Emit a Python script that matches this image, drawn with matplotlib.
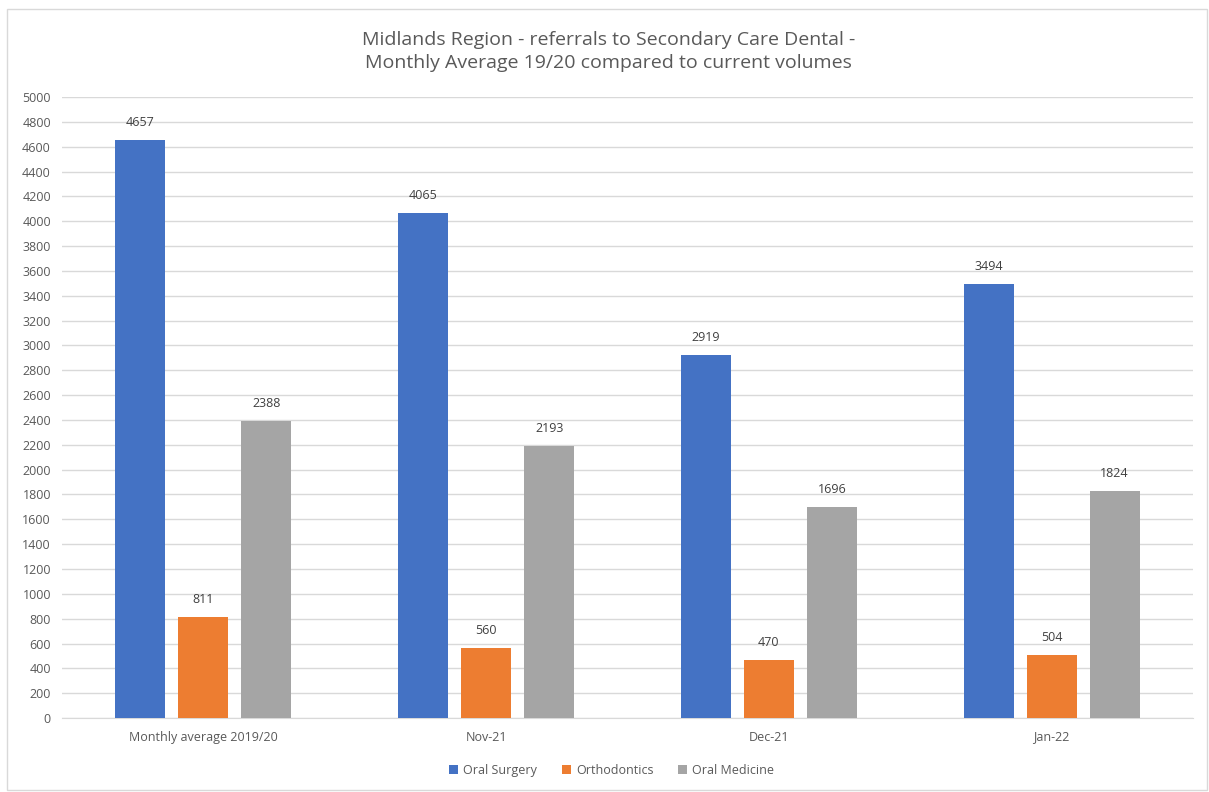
import numpy as np
import matplotlib
matplotlib.use("Agg")
from matplotlib import pyplot as plt
from matplotlib.patches import Rectangle

categories = ["Monthly average 2019/20", "Nov-21", "Dec-21", "Jan-22"]
series_names = ["Oral Surgery", "Orthodontics", "Oral Medicine"]
oral_surgery = [4657, 4065, 2919, 3494]
orthodontics = [811, 560, 470, 504]
oral_medicine = [2388, 2193, 1696, 1824]
y_ticks = list(range(0, 5001, 200))

colors = ["#4472C4", "#ED7D31", "#A5A5A5"]
text_color = "#595959"

plt.rcParams["font.family"] = ["Open Sans", "DejaVu Sans"]

fig = plt.figure(figsize=(12.09, 7.92), dpi=100)
ax = fig.add_axes([0.0513, 0.0934, 0.9355, 0.7841])

x = np.arange(len(categories))
width = 0.177
step = 0.223
for i, (name, vals) in enumerate(zip(series_names, [oral_surgery, orthodontics, oral_medicine])):
    bars = ax.bar(x + (i - 1) * step, vals, width, color=colors[i], label=name, zorder=3)
    for b, v in zip(bars, vals):
        ax.annotate(str(v), (b.get_x() + b.get_width() / 2, v), xytext=(0, 8),
                    textcoords="offset points", ha="center", va="bottom",
                    fontsize=9, color="#404040")

ax.set_xlim(-0.5, len(categories) - 0.5)
ax.set_ylim(0, 5000)
ax.set_yticks(y_ticks)
ax.set_xticks(x)
ax.set_xticklabels(categories)
ax.tick_params(axis="both", length=0, labelsize=9, colors=text_color)
ax.tick_params(axis="x", pad=9)
ax.tick_params(axis="y", pad=8)
ax.grid(axis="y", color="#D9D9D9", linewidth=1, zorder=0)
for s in ["top", "right", "left"]:
    ax.spines[s].set_visible(False)
ax.spines["bottom"].set_color("#D9D9D9")

fig.text(0.503, 0.935, "Midlands Region - referrals to Secondary Care Dental -\nMonthly Average 19/20 compared to current volumes",
         ha="center", va="center", fontsize=14, color=text_color, linespacing=1.3)

fig.legend(loc="center", bbox_to_anchor=(0.506, 0.027), ncol=3, frameon=False,
           fontsize=9, handlelength=0.7, handleheight=0.7, handletextpad=0.4,
           columnspacing=2.0, labelcolor=text_color)

fig.patches.append(Rectangle((0.006, 0.003), 0.992, 0.986, transform=fig.transFigure,
                             fill=False, edgecolor="#D9D9D9", linewidth=1))

fig.savefig("out.png", dpi=100)
